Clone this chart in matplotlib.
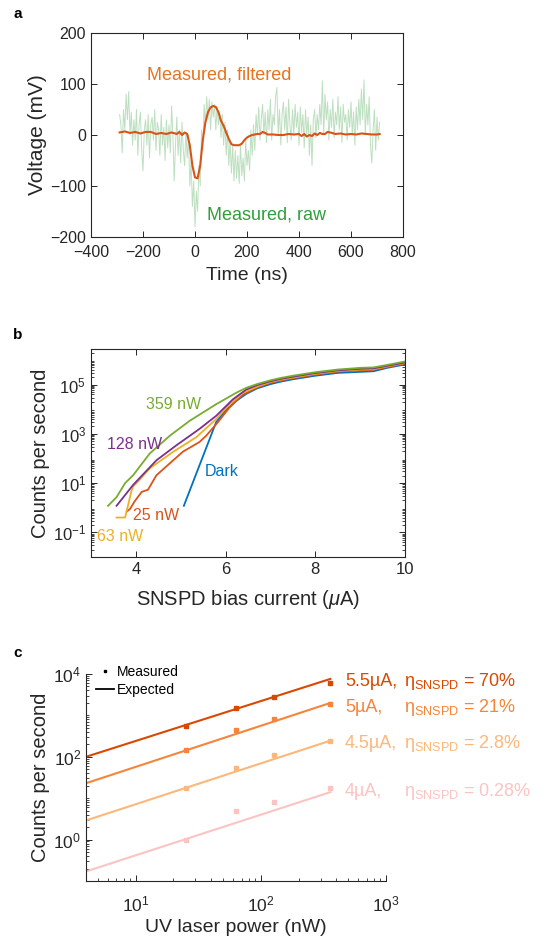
import matplotlib
matplotlib.use("Agg")
import matplotlib.pyplot as plt
from matplotlib.lines import Line2D
from matplotlib.ticker import LogLocator, NullFormatter, FixedLocator

plt.rcParams['font.family'] = ['Liberation Sans', 'DejaVu Sans']
plt.rcParams['mathtext.fontset'] = 'custom'
plt.rcParams['mathtext.rm'] = 'Liberation Sans'
plt.rcParams['mathtext.it'] = 'Liberation Sans:italic'
plt.rcParams['mathtext.bf'] = 'Liberation Sans:bold'
plt.rcParams['xtick.direction'] = 'in'
plt.rcParams['ytick.direction'] = 'in'
AX = '#262626'

# ---------------- Panel a data ----------------
raw_t = list(range(-290, 711, 5))
raw_v = [40, 20, -35, 50, 10, 80, 30, 85, 0, 45,
         -20, 30, -10, 50, -40, 20, 45, -30, -70, 10,
         30, -20, 40, -45, 20, 35, -10, 50, -30, 25,
         10, -40, 40, -20, 15, -50, 30, -25, 20, -35,
         57, 0, -90, -20, 35, -40, 10, -55, 25, -30,
         -60, 5, -45, 0, -100, -50, -140, -90, -180, -110,
         -150, -60, -100, 10, -30, 60, 20, 75, 30, 70,
         10, 65, 35, 60, 10, 55, 20, 45, -5, 40,
         -20, 25, -40, 10, -60, -10, -75, -20, -90, -30,
         -85, -40, -95, -20, -80, -45, -90, -10, -60, -30,
         -70, 10, -40, 20, -30, 40, 0, 55, -10, 30,
         60, 0, 45, -15, 50, 10, 70, -10, 40, 20,
         75, 93, 0, 50, -20, 40, 65, 10, 55, -15,
         70, 20, -10, 50, 0, 60, 15, 45, -20, 55,
         5, 40, -25, 50, 0, 35, -40, 20, -60, 30,
         50, -5, 40, 10, 60, 20, 106, 0, 80, 30,
         65, -10, 50, 15, 70, -5, 45, 20, 75, 10,
         55, -15, 60, 25, 40, -10, 50, 15, 65, 0,
         45, -20, 55, 10, 70, 20, 90, 30, 108, 0,
         60, 20, 75, -20, -55, 10, 50, -30, 35, -10,
         25]

filt_t = [-290, -270, -250, -230, -210, -190, -170, -150, -130, -110, -90, -70, -60, -50, -40, -30,
          -20, -10, 0, 10, 20, 30, 40, 50, 60, 70, 80, 90, 100, 110, 120, 130, 140, 150, 160,
          170, 180, 190, 200, 210, 220, 230, 240, 250, 260, 270, 280, 300, 320, 340, 360, 380,
          400, 410, 420, 430, 440, 450, 460, 470, 480, 490, 500, 510, 520, 540, 560, 580, 600,
          620, 640, 660, 680, 700, 710]
filt_v = [5, 7, 4, 6, 3, 6, 6, 2, 4, 2, 5, 2, 6, 0, 5, 2,
          -20, -60, -83, -85, -60, -10, 25, 45, 54, 57, 55, 45, 28, 18, 5, -8, -18, -20, -20,
          -20, -17, -10, -5, -2, 0, 1, 2, 2, 6, 4, 1, 1, 0, 0, 2, 1,
          2, -2, 2, -3, 0, -2, 3, 0, 4, 2, 2, 6, 5, 2, 3, 1, 2,
          1, 3, 2, 1, 1, 2]

# ---------------- Panel b data ----------------
dark_I = [5.07, 5.79, 6.0, 6.24, 6.46, 6.7, 7.0, 7.25, 7.5, 8.0, 8.5, 9.0, 9.3, 9.6, 10.0]
dark_c = [1.2, 3000, 9000, 2.2e4, 4.2e4, 7e4, 1.05e5, 1.35e5, 1.65e5, 2.3e5, 3.0e5, 3.3e5,
          3.5e5, 4.8e5, 6.6e5]

nw25_I = [3.8, 3.87, 3.98, 4.13, 4.27, 4.46, 5.05, 5.42, 5.57, 5.83, 6.09, 6.39, 6.7, 7.0, 7.25,
          7.5, 8.0, 8.5, 9.0, 9.3, 9.6, 10.0]
nw25_c = [0.7, 0.9, 1.9, 4.4, 5.4, 21, 190, 470, 850, 3000, 1.2e4, 4e4, 7.6e4, 1.2e5, 1.5e5,
          1.83e5, 2.55e5, 3.4e5, 3.8e5, 4.0e5, 5.2e5, 7.2e5]

nw63_I = [3.57, 3.76, 3.83, 3.9, 3.94, 4.05, 4.31, 4.83, 5.35, 5.79, 6.09, 6.39, 6.7, 7.0, 7.25,
          7.5, 8.0, 8.5, 9.0, 9.3, 9.6, 10.0]
nw63_c = [0.4, 0.4, 1.35, 4.7, 7.4, 11.7, 40, 186, 740, 4000, 1.6e4, 4.7e4, 8.3e4, 1.28e5, 1.62e5,
          1.95e5, 2.75e5, 3.6e5, 4.1e5, 4.3e5, 5.5e5, 7.6e5]

nw128_I = [3.57, 3.94, 4.46, 4.9, 5.42, 5.79, 6.16, 6.46, 6.7, 7.0, 7.25, 7.5, 8.0, 8.5, 9.0,
           9.3, 9.6, 10.0]
nw128_c = [1.2, 8.5, 85, 340, 1600, 5400, 2.5e4, 6.3e4, 9.5e4, 1.37e5, 1.74e5, 2.1e5, 2.95e5,
           3.8e5, 4.4e5, 4.6e5, 5.8e5, 7.9e5]

nw359_I = [3.38, 3.57, 3.76, 3.94, 4.31, 4.76, 5.2, 5.79, 6.24, 6.46, 6.7, 7.0, 7.25, 7.5, 8.0,
           8.5, 9.0, 9.3, 9.6, 10.0]
nw359_c = [1.2, 2.7, 10, 21, 160, 850, 3400, 1.6e4, 4.7e4, 7.4e4, 1.05e5, 1.5e5, 1.9e5, 2.3e5,
           3.2e5, 4.1e5, 4.8e5, 5e5, 6.3e5, 8.7e5]

# ---------------- Panel c data ----------------
power_meas = [25, 63, 128, 359]
meas_55 = [560, 1500, 2800, 6000]
meas_50 = [150, 450, 830, 1900]
meas_45 = [18, 54, 110, 245]
meas_40 = [1.0, 5.0, 8.3, 18]
power_line = [4, 359]
exp_55 = [100, 7600]
exp_50 = [23, 2000]
exp_45 = [2.9, 245]
exp_40 = [0.17, 14]
bias_labels = ['5.5µA,', '5µA,', '4.5µA,', '4µA,']
eff_labels = ['70%', '21%', '2.8%', '0.28%']

W, H = 547, 942
fig = plt.figure(figsize=(W / 100, H / 100), dpi=100)


def frac(l, t, r, b):
    return [l / W, 1 - b / H, (r - l) / W, (b - t) / H]


def style(ax, box=True):
    for s in ax.spines.values():
        s.set_color(AX)
        s.set_linewidth(0.8)
    ax.tick_params(which='both', colors=AX, top=box, right=box)
    ax.tick_params(which='major', length=4, width=0.7)
    ax.tick_params(which='minor', length=2, width=0.6)


# ---- a ----
axa = fig.add_axes(frac(91, 33, 403, 237))
axa.plot(raw_t, raw_v, color='#bcdfbf', lw=0.7)
axa.plot(filt_t, filt_v, color='#d95319', lw=1.5)
axa.set_xlim(-400, 800)
axa.set_ylim(-200, 200)
axa.set_xticks([-400, -200, 0, 200, 400, 600, 800])
axa.set_yticks([-200, -100, 0, 100, 200])
style(axa)
axa.tick_params(labelsize=11.5)
axa.tick_params(axis='x', pad=6)
axa.set_xlabel('Time (ns)', fontsize=14, color=AX, labelpad=5)
axa.set_ylabel('Voltage (mV)', fontsize=15, color=AX, labelpad=2)
axa.text(-185, 118, 'Measured, filtered', color='#e8731e', fontsize=13, va='center', ha='left')
axa.text(46, -157, 'Measured, raw', color='#2f9e3b', fontsize=13, va='center', ha='left')
fig.text(13 / W, 1 - 14 / H, 'a', fontsize=11, fontweight='bold', va='center', ha='left')

# ---- b ----
axb = fig.add_axes(frac(91, 349, 405, 557))
axb.plot(dark_I, dark_c, color='#0072bd', lw=1.3)
axb.plot(nw25_I, nw25_c, color='#d95319', lw=1.3)
axb.plot(nw63_I, nw63_c, color='#edb120', lw=1.3)
axb.plot(nw128_I, nw128_c, color='#7e2f8e', lw=1.3)
axb.plot(nw359_I, nw359_c, color='#77ac30', lw=1.3)
axb.set_yscale('log')
axb.set_xlim(3, 10)
axb.set_ylim(1e-2, 2.8e6)
axb.set_xticks([4, 6, 8, 10])
axb.yaxis.set_major_locator(FixedLocator([1e-1, 1e1, 1e3, 1e5]))
axb.yaxis.set_minor_locator(LogLocator(base=10, subs=[2, 3, 4, 5, 6, 7, 8, 9], numticks=20))
axb.yaxis.set_minor_formatter(NullFormatter())
style(axb)
axb.tick_params(labelsize=12)
axb.set_xlabel('SNSPD bias current ($\\mu$A)', fontsize=14.5, color=AX, labelpad=8)
axb.set_ylabel('Counts per second', fontsize=14.5, color=AX, labelpad=2)
axb.text(4.22, 1.6e4, '359 nW', color='#77ac30', fontsize=11.5, va='center')
axb.text(3.36, 363, '128 nW', color='#7e2f8e', fontsize=11.5, va='center')
axb.text(5.53, 30, 'Dark', color='#0072bd', fontsize=11.5, va='center')
axb.text(3.93, 0.48, '25 nW', color='#d95319', fontsize=11.5, va='center')
axb.text(3.13, 0.069, '63 nW', color='#edb120', fontsize=11.5, va='center')
fig.text(13 / W, 1 - 335 / H, 'b', fontsize=11, fontweight='bold', va='center', ha='left')

# ---- c ----
axc = fig.add_axes(frac(86, 674, 386, 881))
cols = ['#d94801', '#f5853a', '#fdb77a', '#fbc4c2']
meas = [meas_55, meas_50, meas_45, meas_40]
exps = [exp_55, exp_50, exp_45, exp_40]
for col, m, e in zip(cols, meas, exps):
    axc.plot(power_line, e, color=col, lw=1.5)
    axc.plot(power_meas, m, ls='none', marker='s', ms=2.4, color=col, mec=col)
axc.set_xscale('log')
axc.set_yscale('log')
axc.set_xlim(4, 1000)
axc.set_ylim(0.1, 1e4)
axc.yaxis.set_major_locator(FixedLocator([1, 1e2, 1e4]))
axc.yaxis.set_minor_locator(LogLocator(base=10, subs=[1, 2, 3, 4, 5, 6, 7, 8, 9], numticks=20))
axc.yaxis.set_minor_formatter(NullFormatter())
axc.xaxis.set_major_locator(FixedLocator([10, 100, 1000]))
axc.xaxis.set_minor_locator(LogLocator(base=10, subs=[2, 3, 4, 5, 6, 7, 8, 9], numticks=20))
axc.xaxis.set_minor_formatter(NullFormatter())
axc.spines['top'].set_visible(False)
axc.spines['right'].set_visible(False)
style(axc, box=False)
axc.tick_params(labelsize=12.5)
axc.tick_params(axis='x', pad=10)
axc.set_xlabel('UV laser power (nW)', fontsize=14, color=AX, labelpad=3)
axc.set_ylabel('Counts per second', fontsize=14.5, color=AX, labelpad=2)
handles = [Line2D([], [], ls='none', marker='s', ms=1.8, color='k'),
           Line2D([], [], color='k', lw=1.3)]
fig.legend(handles, ['Measured', 'Expected'], loc='upper left',
           bbox_to_anchor=(96 / W, 1 - 665 / H), frameon=False, fontsize=10,
           handlelength=1.3, handletextpad=0.2, labelspacing=0.3, borderpad=0, borderaxespad=0)
label_y = [682, 707, 743, 792]
for col, bl, el, y in zip(cols, bias_labels, eff_labels, label_y):
    fig.text(345 / W, 1 - y / H, bl, color=col, fontsize=13, va='center', ha='left')
    fig.text(404 / W, 1 - y / H, 'η$_{\\mathrm{SNSPD}}$ = ' + el, color=col, fontsize=13,
             va='center', ha='left')
fig.text(13 / W, 1 - 653 / H, 'c', fontsize=11, fontweight='bold', va='center', ha='left')

fig.savefig('out.png', dpi=100)
